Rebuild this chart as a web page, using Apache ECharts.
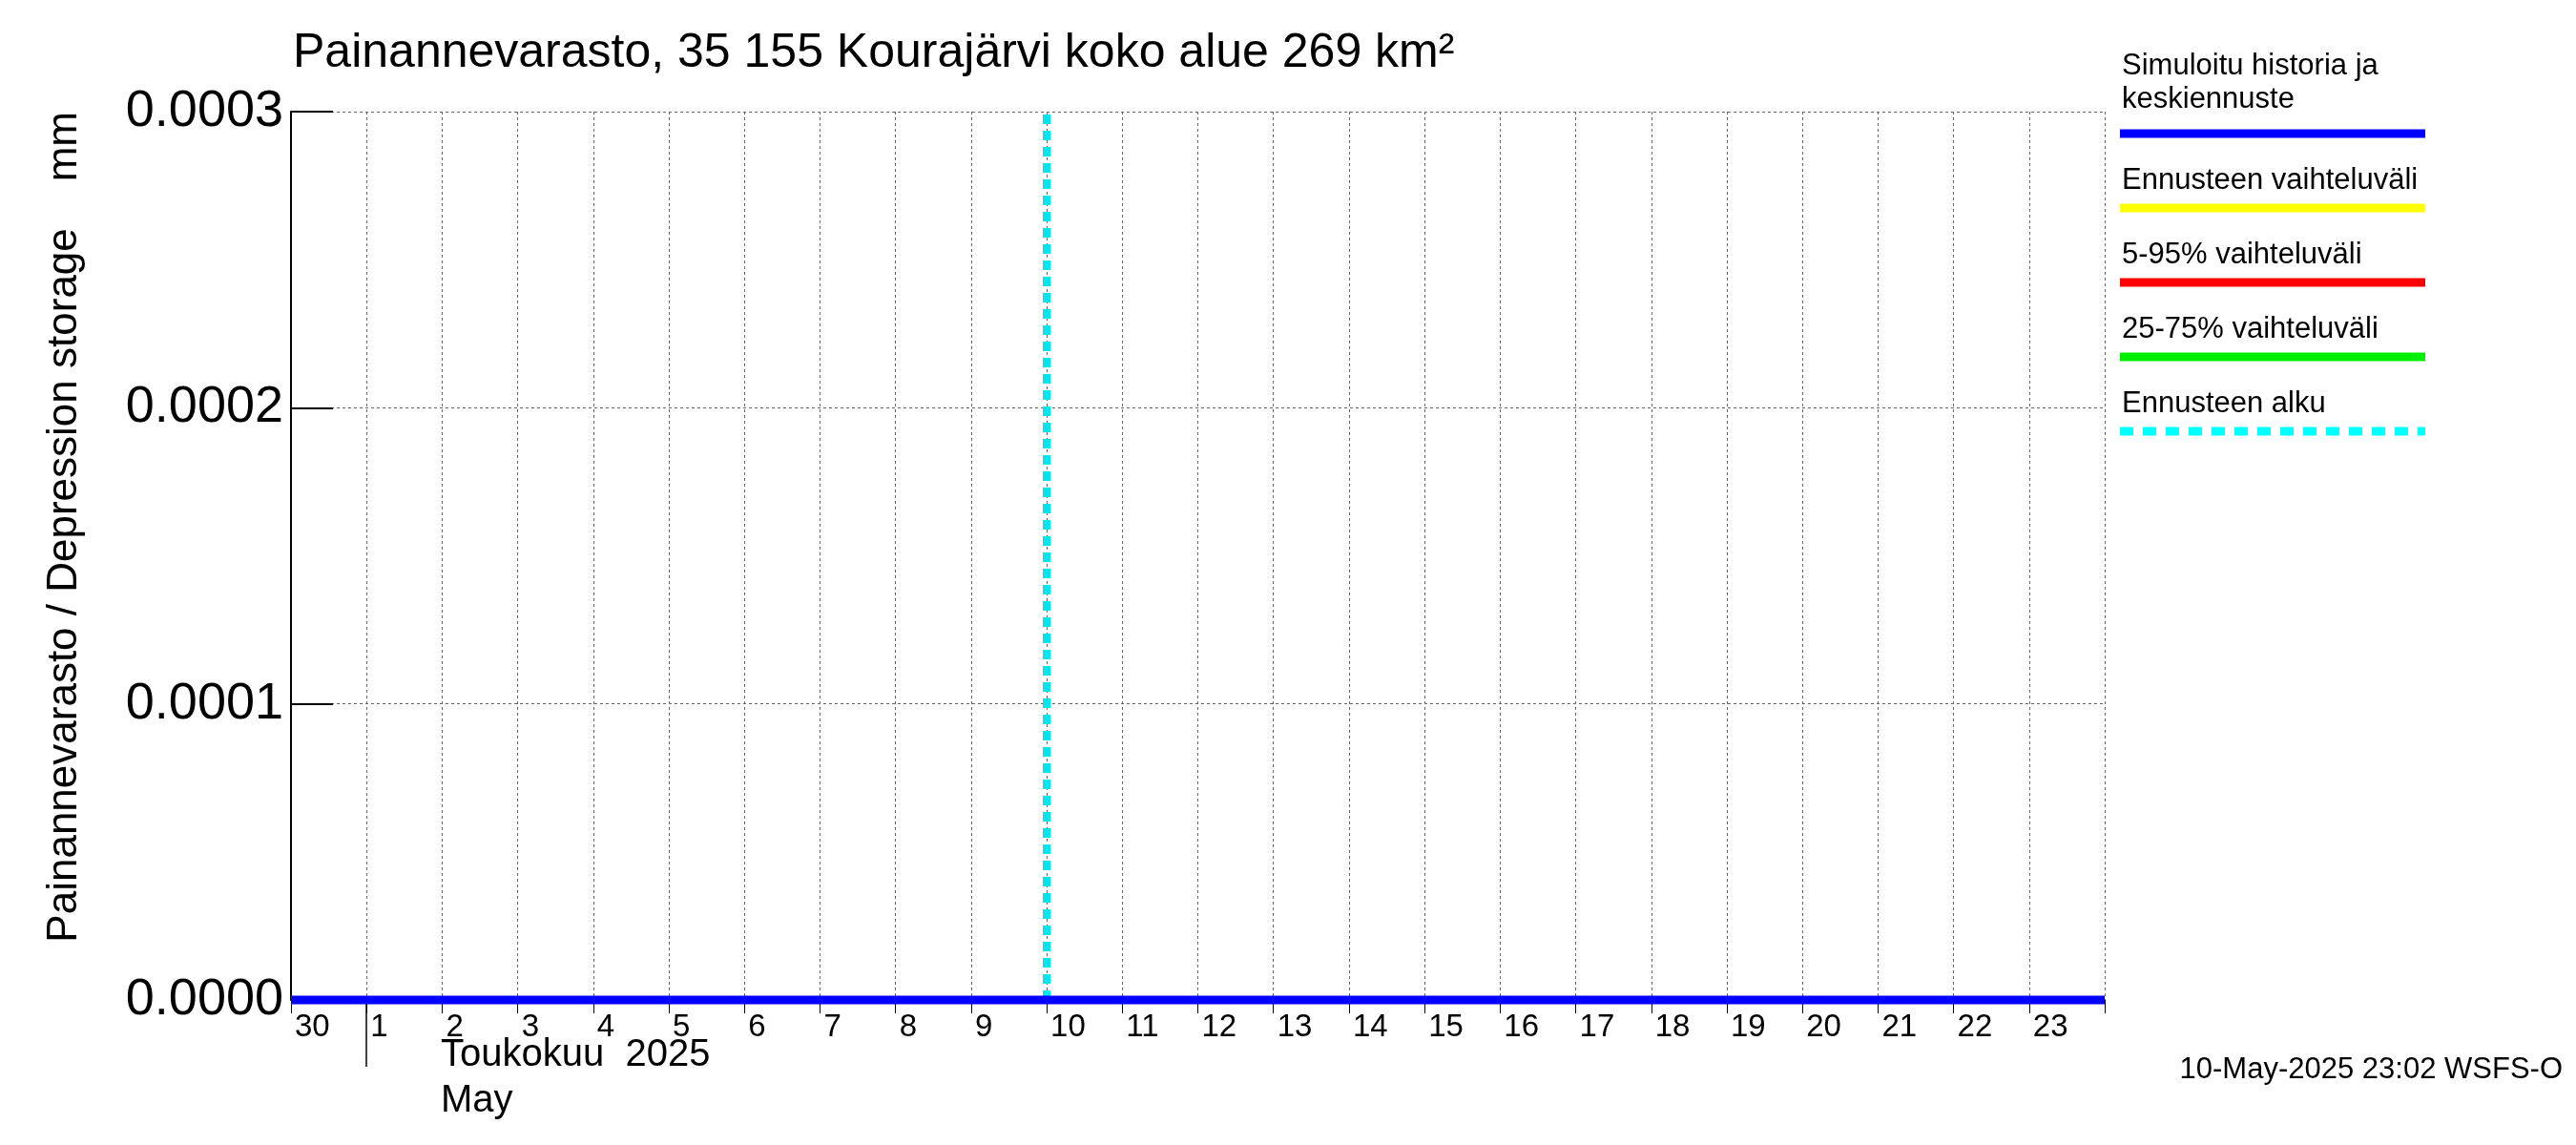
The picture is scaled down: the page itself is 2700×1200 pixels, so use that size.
<!DOCTYPE html>
<html><head><meta charset="utf-8">
<script src="https://cdn.jsdelivr.net/npm/echarts@6/dist/echarts.min.js"></script>
<style>html,body{margin:0;background:#fff}#c{width:2700px;height:1200px}</style>
</head><body><div id="c"></div>
<script>
// days since 30 Apr 2025 00:00
var dayLabels = ['30','1','2','3','4','5','6','7','8','9','10','11','12','13','14','15','16','17','18','19','20','21','22','23'];
var simX = [0, 10, 24];
var simY = [0, 0, 0];
var forecastStart = 10;
var yTicks = [0, 0.0001, 0.0002, 0.0003];

var F = 'Liberation Sans, Arial, sans-serif';
var myChart = echarts.init(document.getElementById('c'));
var legendItems = [
    {t: 'Simuloitu historia ja\nkeskiennuste', c: '#0000ff', y: 140},
    {t: 'Ennusteen vaihteluväli', c: '#ffff00', y: 218},
    {t: '5-95% vaihteluväli', c: '#ff0000', y: 296},
    {t: '25-75% vaihteluväli', c: '#00ee00', y: 374},
    {t: 'Ennusteen alku', c: '#00ffff', y: 452, dash: true}
];
var graphics = [];
legendItems.forEach(function (it) {
    graphics.push({type: 'text', left: 2224, top: it.t.indexOf('\n') > 0 ? it.y - 88 : it.y - 46,
        style: {text: it.t, font: '31px ' + F, fill: '#000', lineHeight: 35}});
    graphics.push({type: 'line', shape: {x1: 2222, y1: it.y, x2: 2542, y2: it.y},
        style: {stroke: it.c, lineWidth: 9, lineDash: it.dash ? [14, 10] : null}});
});
// month separator tick
graphics.push({type: 'line', shape: {x1: 384, y1: 1050, x2: 384, y2: 1118}, style: {stroke: '#000', lineWidth: 1.5}});
graphics.push({type: 'text', left: 462, top: 1082, style: {text: 'Toukokuu  2025\nMay', font: '40px ' + F, fill: '#000', lineHeight: 48}});
graphics.push({type: 'text', right: 14, top: 1106, style: {text: '10-May-2025 23:02 WSFS-O', font: '31px ' + F, fill: '#000'}});

var option = {
    animation: false,
    title: {text: 'Painannevarasto, 35 155 Kourajärvi koko alue 269 km²', left: 302, top: 26,
        textStyle: {fontFamily: F, fontSize: 50, fontWeight: 'normal', color: '#000'}},
    grid: {left: 305, right: 494, top: 117, bottom: 152},
    xAxis: {
        type: 'value', min: 0, max: 24, interval: 1,
        axisLine: {show: false},
        axisTick: {show: true, length: 14, inside: false, lineStyle: {color: '#000'}},
        axisLabel: {
            fontFamily: F, fontSize: 33, color: '#000', margin: 12, align: 'left', padding: [0, 0, 0, 4],
            formatter: function (v) { return v < dayLabels.length ? dayLabels[v] : ''; }
        },
        splitLine: {show: true, lineStyle: {color: '#666', type: [3, 3], width: 1}}
    },
    yAxis: {
        type: 'value', min: 0, max: 0.0003, interval: 0.0001,
        name: 'Painannevarasto / Depression storage    mm', nameLocation: 'end', nameRotate: 90,
        nameGap: 0,
        nameTextStyle: {fontFamily: F, fontSize: 44, color: '#000', align: 'right', verticalAlign: 'bottom', padding: [0, 0, 215, 0]},
        axisLine: {show: true, lineStyle: {color: '#000', width: 2}},
        axisTick: {show: true, inside: true, length: 44, lineStyle: {color: '#000', width: 2}},
        axisLabel: {fontFamily: F, fontSize: 54, color: '#000', margin: 8,
            formatter: function (v) { return v.toFixed(4); }},
        splitLine: {show: true, lineStyle: {color: '#666', type: [3, 3], width: 1}}
    },
    graphic: graphics,
    series: [
        {type: 'line', data: simX.map(function (x, i) { return [x, simY[i]]; }), symbol: 'none',
            lineStyle: {color: '#0000ff', width: 9}, z: 5, clip: false},
        {type: 'line', data: [], symbol: 'none',
            markLine: {symbol: 'none', silent: true, label: {show: false},
                lineStyle: {color: '#00e5ee', width: 8, type: [10, 7]},
                data: [{xAxis: forecastStart}]}}
    ]
};
myChart.setOption(option);
</script></body></html>
